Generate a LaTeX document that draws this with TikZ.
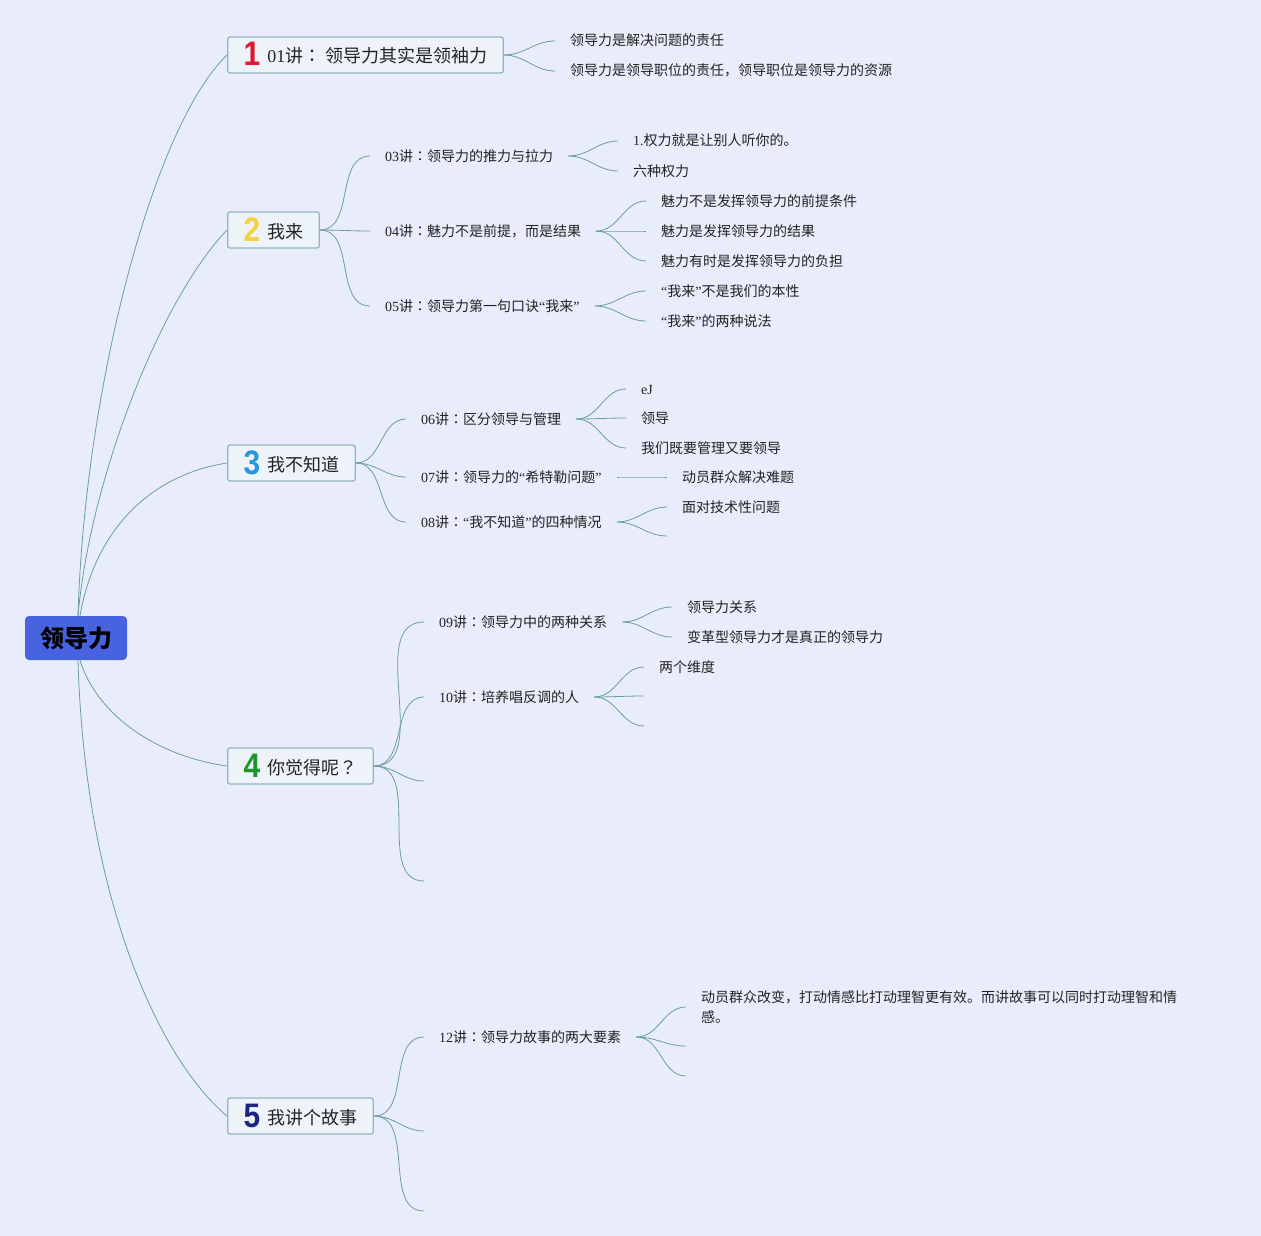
\documentclass[tikz,border=0pt]{standalone}
\usepackage{fontspec}
\usepackage{graphicx}
\usepackage{xcolor}
\setmainfont{Noto Sans CJK SC}
\newfontfamily\enfont{Liberation Serif}
\newfontfamily\numfont{Liberation Sans}
\newfontfamily\punctfont{Noto Sans CJK TC}
\definecolor{bgblue}{RGB}{233, 237, 251}
\definecolor{rootblue}{RGB}{72, 99, 224}
\definecolor{boxfill}{RGB}{238, 243, 250}
\definecolor{boxline}{RGB}{145, 182, 188}
\definecolor{linkteal}{RGB}{104, 158, 158}
\definecolor{txtgray}{RGB}{35, 35, 35}
\definecolor{numred}{RGB}{222, 25, 45}
\definecolor{numyellow}{RGB}{244, 210, 60}
\definecolor{numblue}{RGB}{38, 150, 222}
\definecolor{numgreen}{RGB}{28, 150, 40}
\definecolor{numnavy}{RGB}{28, 38, 130}
\newcommand{\entxt}[1]{{\enfont #1}}
\newcommand{\zhp}[1]{{\punctfont #1}}
\newcommand{\bignum}[2]{\raisebox{-3pt}{\color{#1}\numfont\bfseries\fontsize{34}{34}\selectfont\scalebox{0.88}[1]{#2}}\hspace{7pt}}

\begin{document}
\begin{tikzpicture}[x=1pt, y=-1pt,
  link/.style={linkteal, line width=0.8pt},
  branch/.style={link, out=0, in=180},
  root/.style={fill=rootblue, rounded corners=4pt, minimum width=102pt, minimum height=44pt,
    font=\bfseries\fontsize{24}{24}\selectfont, text=black},
  topic/.style={draw=boxline, line width=1.3pt, fill=boxfill, rounded corners=2.5pt, anchor=west,
    minimum height=36pt, inner xsep=16pt, inner ysep=0pt, text height=20pt, text depth=4pt,
    font=\fontsize{18}{18}\selectfont, text=txtgray},
  sub/.style={anchor=west, inner xsep=15pt, inner ysep=0pt, font=\fontsize{14}{20}\selectfont, text=txtgray},
  leaf/.style={sub, text height=1em, text depth=0pt}]
  % Canvas
  \fill[bgblue] (0,0) rectangle (1261,1236);
  \useasboundingbox (0,0) rectangle (1261,1236);
  % Root and main topics
  \node[root] (root) at (76,638) {领导力};
  \node[topic] (t1) at (227,55) {\bignum{numred}{1}\entxt{01}讲\zhp{：}\hspace{4pt}领导力其实是领袖力};
  \node[topic] (t2) at (227,230) {\bignum{numyellow}{2}我来};
  \node[topic] (t3) at (227,463) {\bignum{numblue}{3}我不知道};
  \node[topic] (t4) at (227,766) {\bignum{numgreen}{4}你觉得呢\zhp{？}};
  \node[topic] (t5) at (227,1116) {\bignum{numnavy}{5}我讲个故事};
  \draw[link] ([xshift=2pt]root.north) .. controls (84,400) and (150,130) .. (t1.west);
  \draw[link] ([xshift=2pt]root.north) .. controls (90,480) and (160,300) .. (t2.west);
  \draw[link] ([xshift=4pt]root.north) .. controls (95,530) and (150,475) .. (t3.west);
  \draw[link] ([xshift=4pt]root.south) .. controls (95,710) and (150,755) .. (t4.west);
  \draw[link] ([xshift=2pt]root.south) .. controls (85,900) and (160,1060) .. (t5.west);
  % Topic 1
  \node[leaf] (a1) at (555,41) {领导力是解决问题的责任};
  \node[leaf] (a2) at (555,71) {领导力是领导职位的责任，领导职位是领导力的资源};
  \foreach \c in {a1,a2} \draw[branch] (t1.east) to (\c.west);
  % Topic 2
  \node[leaf] (b1) at (370,156) {\entxt{03}讲\zhp{：}领导力的推力与拉力};
  \node[leaf] (b2) at (370,231) {\entxt{04}讲\zhp{：}魅力不是前提，而是结果};
  \node[leaf] (b3) at (370,306) {\entxt{05}讲\zhp{：}领导力第一句口诀\entxt{“}我来\entxt{”}};
  \foreach \c in {b1,b2,b3} \draw[branch] (t2.east) to (\c.west);
  \node[leaf] (b11) at (618,141) {\entxt{1.}权力就是让别人听你的。};
  \node[leaf] (b12) at (618,171) {六种权力};
  \foreach \c in {b11,b12} \draw[branch] (b1.east) to (\c.west);
  \node[leaf] (b21) at (646,201) {魅力不是发挥领导力的前提条件};
  \node[leaf] (b22) at (646,231) {魅力是发挥领导力的结果};
  \node[leaf] (b23) at (646,261) {魅力有时是发挥领导力的负担};
  \foreach \c in {b21,b22,b23} \draw[branch] (b2.east) to (\c.west);
  \node[leaf] (b31) at (646,291) {\entxt{“}我来\entxt{”}不是我们的本性};
  \node[leaf] (b32) at (646,321) {\entxt{“}我来\entxt{”}的两种说法};
  \foreach \c in {b31,b32} \draw[branch] (b3.east) to (\c.west);
  % Topic 3
  \node[leaf] (c1) at (406,419) {\entxt{06}讲\zhp{：}区分领导与管理};
  \node[leaf] (c2) at (406,477) {\entxt{07}讲\zhp{：}领导力的\entxt{“}希特勒问题\entxt{”}};
  \node[leaf] (c3) at (406,522) {\entxt{08}讲\zhp{：}\entxt{“}我不知道\entxt{”}的四种情况};
  \foreach \c in {c1,c2,c3} \draw[branch] (t3.east) to (\c.west);
  \node[leaf] (c11) at (626,389) {\entxt{eJ}};
  \node[leaf] (c12) at (626,418) {领导};
  \node[leaf] (c13) at (626,448) {我们既要管理又要领导};
  \foreach \c in {c11,c12,c13} \draw[branch] (c1.east) to (\c.west);
  \node[leaf] (c21) at (667,477) {动员群众解决难题};
  \draw[branch] (c2.east) to (c21.west);
  \node[leaf] (c31) at (667,507) {面对技术性问题};
  \coordinate (c32) at (667,536);
  \draw[branch] (c3.east) to (c31.west);
  \draw[branch] (c3.east) to (c32);
  % Topic 4
  \node[leaf] (d1) at (424,622) {\entxt{09}讲\zhp{：}领导力中的两种关系};
  \node[leaf] (d2) at (424,697) {\entxt{10}讲\zhp{：}培养唱反调的人};
  \coordinate (d3) at (424,781);
  \coordinate (d4) at (424,881);
  \foreach \c in {d1.west,d2.west,d3,d4} \draw[branch] (t4.east) to (\c);
  \node[leaf] (d11) at (672,607) {领导力关系};
  \node[leaf] (d12) at (672,637) {变革型领导力才是真正的领导力};
  \foreach \c in {d11,d12} \draw[branch] (d1.east) to (\c.west);
  \node[leaf] (d21) at (644,667) {两个维度};
  \coordinate (d22) at (644,696);
  \coordinate (d23) at (644,726);
  \foreach \c in {d21.west,d22,d23} \draw[branch] (d2.east) to (\c);
  % Topic 5
  \node[leaf] (e1) at (424,1037) {\entxt{12}讲\zhp{：}领导力故事的两大要素};
  \coordinate (e2) at (424,1131);
  \coordinate (e3) at (424,1211);
  \foreach \c in {e1.west,e2,e3} \draw[branch] (t5.east) to (\c);
  \node[sub, align=left] (e11) at (686,1007)
    {动员群众改变，打动情感比打动理智更有效。而讲故事可以同时打动理智和情\\感。};
  \coordinate (e12) at (686,1046);
  \coordinate (e13) at (686,1076);
  \foreach \c in {e11.west,e12,e13} \draw[branch] (e1.east) to (\c);
\end{tikzpicture}
\end{document}
